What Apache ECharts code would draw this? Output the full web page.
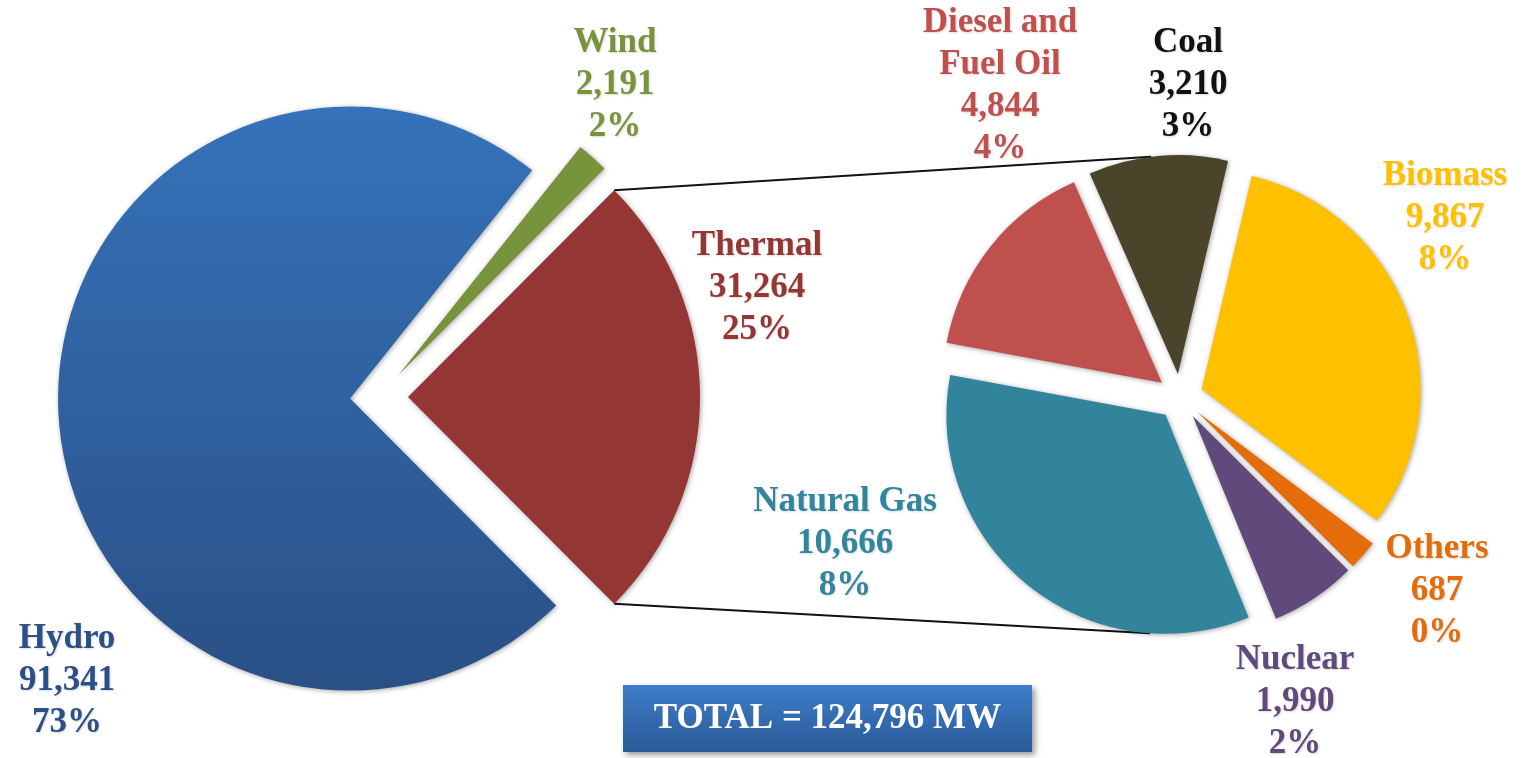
<!DOCTYPE html>
<html><head><meta charset="utf-8">
<script src="https://cdn.jsdelivr.net/npm/echarts@6/dist/echarts.min.js"></script>
<style>html,body{margin:0;padding:0;background:#fff}#chart{width:1526px;height:758px}</style>
</head><body><div id="chart"></div>
<script>
// ---- data ----
const leftNames = ['Hydro', 'Wind', 'Thermal'];
const leftValues = [91341, 2191, 31264];
const leftPercents = ['73%', '2%', '25%'];
const rightNames = ['Diesel and\nFuel Oil', 'Coal', 'Biomass', 'Others', 'Nuclear', 'Natural Gas'];
const rightValues = [4844, 3210, 9867, 687, 1990, 10666];
const rightPercents = ['4%', '3%', '8%', '0%', '2%', '8%'];

// ---- layout / style ----
const FONT = '"Liberation Serif", "DejaVu Serif", serif';
const LP = { cx: 379, cy: 397, r: 292, explode: 29 };
const RP = { cx: 1180, cy: 397, r: 219, explode: 23, startAngle: 169.5 };
const leftColors = [
  { type: 'linear', x: 0, y: 0, x2: 0, y2: 1, colorStops: [{ offset: 0, color: '#3572b9' }, { offset: 1, color: '#2a5086' }] },
  '#77933c', '#943634'
];
const leftLabelColors = ['#2b4f86', '#77933c', '#943634'];
const rightColors = ['#c0504d', '#4a442a', '#ffc000', '#e46c0a', '#604a7b', '#31849b'];
const rightLabelColors = ['#c0504d', '#111111', '#ffc000', '#e46c0a', '#604a7b', '#31859c'];
const leftLabelPos = [[67, 681], [615, 85], [757, 288]];
const rightLabelPos = [[1000, 86], [1188, 85], [1445, 218], [1437, 591], [1295, 702], [845, 544]];

const total = leftValues.reduce((a, b) => a + b, 0);
const thermalDeg = leftValues[2] / total * 360;
const leftStart = 360 - thermalDeg / 2;

function sliceAngles(values, start) {
  const sum = values.reduce((a, b) => a + b, 0);
  let cur = start;
  return values.map(v => {
    const a0 = cur, a1 = cur - v / sum * 360;
    cur = a1;
    return { a0, a1, mid: (a0 + a1) / 2 };
  });
}
const rad = d => d * Math.PI / 180;
function arcPoint(P, slice, angle) {
  const ox = P.cx + P.explode * Math.cos(rad(slice.mid));
  const oy = P.cy - P.explode * Math.sin(rad(slice.mid));
  return [ox + P.r * Math.cos(rad(angle)), oy - P.r * Math.sin(rad(angle))];
}
const leftSlices = sliceAngles(leftValues, leftStart);
const rightSlices = sliceAngles(rightValues, RP.startAngle);
const th = leftSlices[2];
const pLT = arcPoint(LP, th, th.a0);
const pLB = arcPoint(LP, th, th.a1);
const pRT = arcPoint(RP, rightSlices[1], 97);
const pRB = arcPoint(RP, rightSlices[5], -94);

const fmt = v => v.toLocaleString('en-US');
const shadow = { shadowBlur: 5, shadowColor: 'rgba(0,0,0,0.35)', shadowOffsetX: 1, shadowOffsetY: 1 };

function makeData(names, values, colors) {
  return names.map((n, i) => ({
    name: n, value: values[i], selected: true,
    itemStyle: Object.assign({ color: colors[i] }, shadow)
  }));
}
function makeLabels(names, values, pcts, colors, pos) {
  return names.map((n, i) => ({
    type: 'text', z: 20, x: pos[i][0], y: pos[i][1],
    style: {
      text: n + '\n' + fmt(values[i]) + '\n' + pcts[i],
      fill: colors[i], fontFamily: FONT, fontWeight: 'bold', fontSize: 35, lineHeight: 42,
      align: 'center', verticalAlign: 'middle',
      textShadowColor: 'rgba(0,0,0,0.15)', textShadowBlur: 2, textShadowOffsetX: 1, textShadowOffsetY: 1
    }
  }));
}

const chart = echarts.init(document.getElementById('chart'));
chart.setOption({
  animation: false,
  backgroundColor: '#ffffff',
  graphic: [
    { type: 'line', z: 1, shape: { x1: pLT[0], y1: pLT[1], x2: pRT[0], y2: pRT[1] }, style: { stroke: '#111', lineWidth: 2 } },
    { type: 'line', z: 1, shape: { x1: pLB[0], y1: pLB[1], x2: pRB[0], y2: pRB[1] }, style: { stroke: '#111', lineWidth: 2 } },
    { type: 'rect', z: 10, shape: { x: 623, y: 685, width: 409, height: 67 },
      style: { fill: { type: 'linear', x: 0, y: 0, x2: 0, y2: 1, colorStops: [{ offset: 0, color: '#3d7dc8' }, { offset: 1, color: '#2b5a98' }] },
        shadowBlur: 6, shadowOffsetX: 3, shadowOffsetY: 3, shadowColor: 'rgba(0,0,0,0.4)' } },
    { type: 'text', z: 11, x: 827.5, y: 719,
      style: { text: 'TOTAL = ' + fmt(total) + ' MW', fill: '#ffffff', fontFamily: FONT, fontWeight: 'bold', fontSize: 35,
        align: 'center', verticalAlign: 'middle' } }
  ].concat(
    makeLabels(leftNames, leftValues, leftPercents, leftLabelColors, leftLabelPos),
    makeLabels(rightNames, rightValues, rightPercents, rightLabelColors, rightLabelPos)
  ),
  series: [
    {
      type: 'pie', center: [LP.cx, LP.cy], radius: LP.r, startAngle: leftStart, clockwise: true,
      selectedMode: 'multiple', selectedOffset: LP.explode,
      emphasis: { disabled: true }, silent: true,
      label: { show: false }, labelLine: { show: false },
      data: makeData(leftNames, leftValues, leftColors)
    },
    {
      type: 'pie', center: [RP.cx, RP.cy], radius: RP.r, startAngle: RP.startAngle, clockwise: true,
      selectedMode: 'multiple', selectedOffset: RP.explode,
      emphasis: { disabled: true }, silent: true,
      label: { show: false }, labelLine: { show: false },
      data: makeData(rightNames, rightValues, rightColors)
    }
  ]
});
</script></body></html>
